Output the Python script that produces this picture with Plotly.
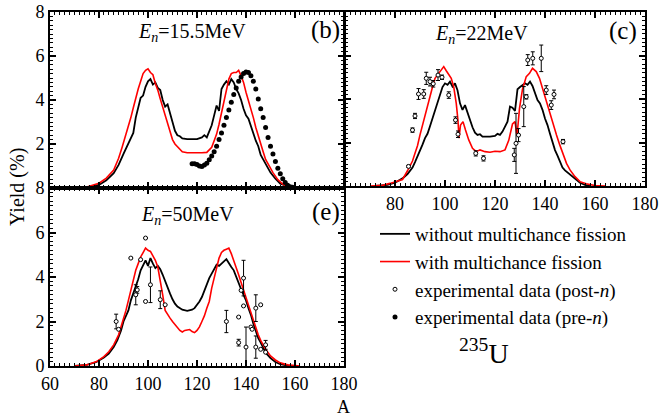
import plotly.graph_objects as go

FONT = "Liberation Serif"
W, H = 659, 419

# ---------------- data (A, yield %) ----------------
# panel (b) En = 15.5 MeV
b_without = [(70,0),(75,0.03),(80,0.14),(83,0.35),(86,0.67),(88,1.05),(90,1.55),(92,2.0),(93,2.3),(94,2.5),
             (95,3.2),(96,3.6),(97,4.1),(98,4.2),(99,4.6),(100,4.85),(101,4.95),(102,4.7),(103,4.8),(104,4.55),
             (105,4.45),(106,4.0),(107,3.7),(108,3.8),(109,3.45),(110,3.0),(111,2.6),(112,2.4),(113,2.35),(114,2.25),
             (116,2.22),(118,2.22),(120,2.22),(122,2.3),(123,2.4),(124,2.3),(125,2.55),(126,2.85),(127,3.3),(128,3.75),
             (129,3.5),(130,4.5),(131,4.7),(132,4.85),(133,4.7),(134,4.95),(135,4.8),(136,4.5),(137,4.3),(138,4.0),
             (139,3.6),(140,3.3),(141,3.15),(142,2.8),(143,2.4),(144,2.15),(145,1.9),(146,1.5),(147,1.3),(148,1.1),
             (149,0.85),(150,0.7),(152,0.42),(154,0.2),(156,0.12),(158,0.05),(160,0)]
b_with = [(70,0),(75,0.05),(80,0.22),(83,0.45),(86,0.82),(88,1.35),(89.5,1.88),(91,2.4),(92,2.8),(93,3.2),
          (94,3.65),(95,4.1),(96,4.5),(97,4.85),(98,5.2),(99,5.35),(100,5.42),(101,5.25),(102,5.15),(103,4.75),
          (104,4.45),(105,4.05),(106,3.7),(107,3.3),(108,2.9),(109,2.55),(110,2.2),(111,2.0),(112,1.88),(113,1.75),
          (114,1.65),(116,1.6),(118,1.6),(120,1.58),(122,1.6),(124,1.62),(125,1.75),(126,1.85),(127,2.15),(128,2.45),
          (129,2.9),(130,3.4),(131,3.9),(132,4.5),(133,4.95),(134,5.2),(135,5.25),(136,5.25),(137,5.35),(138,5.1),
          (139,4.8),(140,4.35),(141,4.0),(142,3.6),(143,3.2),(144,2.75),(145,2.35),(146,2.0),(147,1.65),(148,1.3),
          (149,1.08),(150,0.9),(151,0.7),(153,0.38),(155,0.18),(157,0.07),(160,0.02),(163,0),(167,0)]
b_pre_n = [(118,1.1),(119,1.1),(120,1.07),(121,1.0),(122,0.98),(123,1.05),(124,1.12),(125,1.28),(126,1.45),(127,1.65),
           (128,1.9),(129,2.2),(130,2.5),(131,2.85),(132,3.2),(133,3.55),(134,3.9),(135,4.25),(136,4.55),(137,4.85),
           (138,5.05),(139,5.2),(140,5.27),(141,5.25),(142,5.1),(143,4.85),(144,4.5),(145,4.05),(146,3.6),(147,3.2),
           (148,2.75),(149,2.3),(150,1.9),(151,1.55),(152,1.2),(153,0.9),(154,0.65),(155,0.42),(156,0.25),(157,0.13),
           (158,0.06),(159,0.03)]

# panel (c) En = 22 MeV
c_without = [(72,0),(77,0.05),(80,0.15),(83,0.35),(85,0.55),(86,0.7),(87,0.85),(88,1.1),(89,1.35),(90,1.6),
             (91,1.9),(92,2.2),(93,2.4),(94,2.75),(95,3.1),(96,3.45),(97,3.8),(98,4.2),(99,4.55),(100,4.72),
             (101,4.65),(102,4.8),(103,4.57),(104,4.72),(105,4.4),(106,3.8),(107,3.5),(108,3.72),(109,3.35),(110,3.0),
             (111,2.7),(112,2.45),(113,2.35),(114,2.38),(115,2.27),(118,2.27),(120,2.3),(121,2.4),(122,2.35),(123,2.5),
             (124,2.7),(125,2.96),(126,3.65),(127,3.6),(128,3.45),(129,4.45),(130,4.55),(131,4.65),(132,4.72),(133,4.65),
             (134,4.8),(135,4.6),(136,4.3),(137,3.95),(138,3.8),(139,3.5),(140,3.1),(141,2.8),(142,2.4),(143,2.0),
             (144,1.65),(145,1.4),(146,1.15),(147,0.85),(148,0.72),(149,0.62),(150,0.55),(151,0.42),(152,0.32),(154,0.15),
             (156,0.05),(158,0)]
c_with = [(70,0),(75,0.03),(78,0.12),(81,0.25),(83,0.3),(85,0.7),(86,0.95),(87,1.15),(88,1.5),(89,1.85),
          (90,2.35),(91,2.8),(92,3.25),(93,3.75),(94,4.15),(95,4.55),(96,4.95),(97,5.1),(98,5.25),(99,5.4),
          (99.5,5.49),(100.5,5.3),(101.5,5.15),(102.5,4.95),(103.5,4.55),(104.5,3.8),(105.2,3.0),(105.6,2.2),(106.2,2.8),(107.2,2.96),
          (108.2,2.57),(109.5,2.12),(111,1.73),(112.5,1.58),(114,1.66),(116,1.58),(118,1.55),(120,1.6),(122,1.58),(124,1.66),
          (125.5,2.1),(127,2.85),(128,2.96),(128.8,2.3),(129.8,3.57),(131,4.45),(132.5,5.03),(133.8,5.18),(135,5.41),(136.5,5.26),
          (137.8,4.95),(139.2,4.41),(140.5,3.88),(141.9,3.34),(143.2,2.8),(144.6,2.34),(145.9,1.89),(147.2,1.43),(148.6,1.04),(150,0.74),
          (152,0.43),(154,0.2),(156.5,0.1),(160,0.02),(164,0)]
c_post_n = [(85.4,0.9,0.05),(87,2.57,0.1),(88,3.22,0.12),(89.4,4.23,0.25),(91.5,4.23,0.2),(92.5,4.95,0.28),
            (94,4.8,0.2),(95.3,4.7,0.15),(97.2,5.1,0.25),(98.8,5.0,0.1),(101.5,4.18,0.15),(104.2,3.03,0.15),
            (105.2,2.38,0.15),(112.3,1.5,0.12),(115.4,1.27,0.12),(127.7,1.43,0.3),(128.4,1.96,1.38),(129.4,2.34,0.3),
            (131.5,3.65,0.92),(132.5,4.1,0.1),(133.1,5.79,0.25),(135.1,5.87,0.3),(138.5,5.87,0.61),(140.5,4.41,0.2),
            (142.5,3.72,0.2),(143.6,4.21,0.2),(147.2,2.04,0.1)]

# panel (e) En = 50 MeV
e_without = [(70,0),(75,0.05),(79,0.18),(82,0.38),(84,0.56),(86,0.85),(87.5,1.16),(89,1.6),(90,2.0),(91,2.25),
             (92,2.5),(93,2.95),(94,3.25),(95,3.55),(96,3.9),(97,4.3),(98,4.5),(99,4.75),(100,4.5),(101,4.85),
             (102,4.6),(103,4.4),(104,4.5),(105,4.35),(106,4.1),(107,3.8),(108,3.5),(109,3.25),(110,3.0),(111,2.8),
             (112,2.67),(113,2.58),(114,2.53),(116,2.48),(118,2.53),(119,2.6),(120,2.73),(121,2.9),(122,3.1),(123,3.4),
             (124,3.7),(125,3.95),(126,4.15),(127,4.35),(128,4.55),(129,4.5),(130,4.62),(131,4.7),(132,4.8),(133,4.6),
             (134,4.45),(135,4.3),(136,4.0),(137,3.7),(138,3.45),(139,3.2),(140,2.95),(141,2.6),(142,2.3),(143,1.9),
             (144,1.55),(145,1.25),(146,1.05),(147,0.8),(148,0.6),(150,0.35),(152,0.18),(154,0.08),(158,0)]
e_with = [(70,0),(75,0.05),(79,0.2),(82,0.42),(84,0.64),(86,0.95),(88,1.4),(89,1.75),(90,2.1),(91,2.5),
          (92,2.95),(93,3.4),(94,3.85),(95,4.3),(96,4.6),(97,4.9),(98,5.1),(99,5.3),(100,5.2),(101,5.15),
          (102,4.95),(103,4.75),(104,4.45),(105,3.9),(106,3.2),(107,2.5),(108,2.3),(109,2.15),(110,2.0),(111,1.85),
          (112,1.75),(113,1.6),(114,1.53),(115,1.6),(116,1.62),(117,1.64),(118,1.55),(119,1.5),(120,1.6),(121,1.76),
          (122,2.0),(123,2.25),(124,2.6),(125,2.9),(126,3.5),(127,4.0),(128,4.5),(129,4.85),(130,5.1),(131,5.2),
          (132,5.25),(133,5.3),(134,5.05),(135,4.75),(136,4.4),(137,4.1),(138,3.75),(139,3.4),(140,3.05),(141,2.7),
          (142,2.35),(143,2.0),(144,1.7),(145,1.4),(146,1.15),(147,0.95),(148,0.75),(150,0.45),(152,0.27),(154,0.14),
          (157,0.05),(162,0)]
e_post_n = [(87,2.0,0.33),(88,1.65,0),(93,4.85,0),(95,3.2,0.45),(95.6,3.42,0.15),(97,4.78,0),(99,5.75,0),
            (99,2.9,0),(101,3.65,0.8),(105,2.98,0.4),(107,2.75,0),(132,2.0,0.5),(137,2.2,0),(137,1.05,0.15),
            (138,3.4,0),(139,3.95,0.8),(139,2.7,0),(140,0.85,0.9),(142,1.75,0),(142.5,1.65,0),(144,2.6,0.6),
            (144,0.85,0.5),(146,2.75,0),(146,0.75,0),(148,0.95,0.2),(148,0.62,0)]

x_ticks_e = [60, 80, 100, 120, 140, 160, 180]
x_ticks_c = [80, 100, 120, 140, 160, 180]
y_ticks_b = [2, 4, 6, 8]
y_ticks_e = [0, 2, 4, 6, 8]

legend_names = ["without multichance fission", "with multichance fission",
                "experimental data (post-<i>n</i>)", "experimental data (pre-<i>n</i>)"]


def col(rows, i):
    return [r[i] for r in rows]


def px_x(p):
    return p / W


def px_y(p):
    return 1 - p / H


fig = go.Figure()

panels = [("x", "y", b_without, b_with), ("x2", "y2", c_without, c_with), ("x3", "y3", e_without, e_with)]
for k, (xa, ya, wo, wi) in enumerate(panels):
    fig.add_trace(go.Scatter(x=col(wo, 0), y=col(wo, 1), xaxis=xa, yaxis=ya, mode="lines",
                             line=dict(color="black", width=1.8), name=legend_names[0],
                             showlegend=(k == 0), legendrank=1))
    fig.add_trace(go.Scatter(x=col(wi, 0), y=col(wi, 1), xaxis=xa, yaxis=ya, mode="lines",
                             line=dict(color="red", width=1.6), name=legend_names[1],
                             showlegend=(k == 0), legendrank=2))

post_marker = dict(symbol="circle", size=4, color="white", line=dict(color="black", width=1))
for k, (xa, ya, data) in enumerate([("x2", "y2", c_post_n), ("x3", "y3", e_post_n)]):
    fig.add_trace(go.Scatter(x=col(data, 0), y=col(data, 1), xaxis=xa, yaxis=ya, mode="markers",
                             marker=post_marker, name=legend_names[2], showlegend=(k == 0), legendrank=3,
                             error_y=dict(type="data", array=col(data, 2), color="black", thickness=1, width=2)))

fig.add_trace(go.Scatter(x=col(b_pre_n, 0), y=col(b_pre_n, 1), xaxis="x", yaxis="y", mode="markers",
                         marker=dict(symbol="circle", size=5, color="black"), name=legend_names[3],
                         showlegend=True, legendrank=4))

tickfont = dict(family=FONT, size=18, color="black")


def xaxis(domain, anchor, tickvals, show):
    return dict(domain=domain, anchor=anchor, range=[60, 180], tickvals=tickvals, showticklabels=show,
                automargin=False,
                showline=True, linewidth=2, linecolor="black", mirror="ticks", ticks="inside",
                ticklen=6, tickwidth=1.5, tickcolor="black", showgrid=False, zeroline=False,
                tickfont=tickfont,
                minor=dict(dtick=2, ticks="inside", ticklen=3, tickwidth=1.2, tickcolor="black", showgrid=False))


def yaxis(domain, anchor, tickvals, show):
    return dict(domain=domain, anchor=anchor, range=[0, 8], tickvals=tickvals, showticklabels=show,
                automargin=False,
                showline=True, linewidth=2, linecolor="black", mirror="ticks", ticks="inside",
                ticklen=6, tickwidth=1.5, tickcolor="black", showgrid=False, zeroline=False,
                tickfont=tickfont,
                minor=dict(dtick=0.2, ticks="inside", ticklen=3, tickwidth=1.2, tickcolor="black", showgrid=False))


fig.update_layout(
    width=W, height=H, autosize=False,
    margin=dict(l=0, r=0, t=0, b=0, autoexpand=False),
    paper_bgcolor="white", plot_bgcolor="white",
    font=dict(family=FONT, size=18, color="black"),
    xaxis=xaxis([px_x(50), px_x(344)], "y", x_ticks_e, False),
    yaxis=yaxis([px_y(188), px_y(12)], "x", y_ticks_b, True),
    xaxis2=xaxis([px_x(345), px_x(645)], "y2", x_ticks_c, True),
    yaxis2=yaxis([px_y(186), px_y(12)], "x2", y_ticks_e, False),
    xaxis3=xaxis([px_x(50), px_x(344)], "y3", x_ticks_e, True),
    yaxis3=yaxis([px_y(366), px_y(188)], "x3", y_ticks_e, True),
    legend=dict(x=px_x(375), y=px_y(215), xanchor="left", yanchor="top", bgcolor="rgba(0,0,0,0)",
                font=dict(family=FONT, size=19, color="black"), tracegroupgap=0),
    showlegend=True,
)


def note(text, x, y, size, **kw):
    fig.add_annotation(text=text, x=px_x(x), y=px_y(y), xref="paper", yref="paper", showarrow=False,
                       xanchor="center", yanchor="middle", font=dict(family=FONT, size=size, color="black"), **kw)


note("<i>E</i><sub><i>n</i></sub>=15.5MeV", 192, 33, 20)
note("(b)", 325, 30, 25)
note("<i>E</i><sub><i>n</i></sub>=22MeV", 481, 35, 20)
note("(c)", 623, 31, 25)
note("<i>E</i><sub><i>n</i></sub>=50MeV", 187, 215, 20)
note("(e)", 326, 212, 25)
note("Yield (%)", 17, 187, 20, textangle=-90)
note("A", 343, 407, 18)
note("<sup>235</sup>U", 484, 351, 28)

fig.write_html("out.html", config={"displayModeBar": False},
               post_script="document.body.style.margin='0';document.body.style.padding='0';")
